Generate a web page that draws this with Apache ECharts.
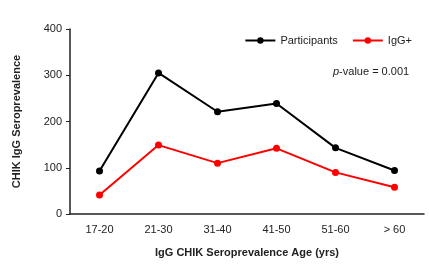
<!DOCTYPE html>
<html>
<head>
<meta charset="utf-8">
<script src="https://cdn.jsdelivr.net/npm/echarts@6/dist/echarts.min.js"></script>
<style>
  html, body { margin: 0; padding: 0; background: #fff; }
  #chart { width: 429px; height: 271px; }
</style>
</head>
<body>
<div id="chart"></div>
<script>
// Age groups and counts
const ageGroups = ['17-20', '21-30', '31-40', '41-50', '51-60', '> 60'];
const participants = [93, 305, 221, 239, 143, 94];
const iggPositive = [41, 149, 110, 142, 90, 58];
const yTicks = [0, 100, 200, 300, 400];

const font = 'Liberation Sans, Arial, sans-serif';
const chart = echarts.init(document.getElementById('chart'));

chart.setOption({
  animation: false,
  textStyle: { fontFamily: font },
  grid: { left: 70, right: 5, top: 29, bottom: 57 },
  legend: {
    top: 30,
    right: 12,
    itemWidth: 30,
    itemHeight: 8,
    itemGap: 14,
    textStyle: { fontSize: 11, color: '#222', fontFamily: font },
    data: ['Participants', 'IgG+']
  },
  graphic: [{
    type: 'text',
    left: 333,
    top: 66,
    style: {
      rich: {
        i: { fontStyle: 'italic', fontSize: 11, fill: '#222', fontFamily: font },
        n: { fontSize: 11, fill: '#222', fontFamily: font }
      },
      text: '{i|p}{n|-value = 0.001}'
    }
  }],
  xAxis: {
    type: 'category',
    data: ageGroups,
    boundaryGap: true,
    name: 'IgG CHIK Seroprevalence Age (yrs)',
    nameLocation: 'middle',
    nameGap: 33,
    nameTextStyle: { fontSize: 11, fontWeight: 'bold', color: '#222' },
    axisLine: { lineStyle: { color: '#222', width: 1.5 } },
    axisTick: { length: 4, lineStyle: { color: '#222' } },
    axisLabel: { fontSize: 11, color: '#222', margin: 10 }
  },
  yAxis: {
    type: 'value',
    min: yTicks[0],
    max: yTicks[yTicks.length - 1],
    interval: 100,
    name: 'CHIK IgG Seroprevalence',
    nameLocation: 'middle',
    nameGap: 48,
    nameTextStyle: { fontSize: 11, fontWeight: 'bold', color: '#222' },
    splitLine: { show: false },
    axisLine: { show: true, lineStyle: { color: '#222', width: 1.5 } },
    axisTick: { show: true, length: 4, lineStyle: { color: '#222' } },
    axisLabel: { fontSize: 11, color: '#222', margin: 8 }
  },
  series: [
    {
      name: 'Participants',
      type: 'line',
      data: participants,
      symbol: 'circle',
      symbolSize: 7,
      itemStyle: { color: '#000' },
      lineStyle: { color: '#000', width: 2 }
    },
    {
      name: 'IgG+',
      type: 'line',
      data: iggPositive,
      symbol: 'circle',
      symbolSize: 7,
      itemStyle: { color: '#ff0000' },
      lineStyle: { color: '#ff0000', width: 2 }
    }
  ]
});
</script>
</body>
</html>
